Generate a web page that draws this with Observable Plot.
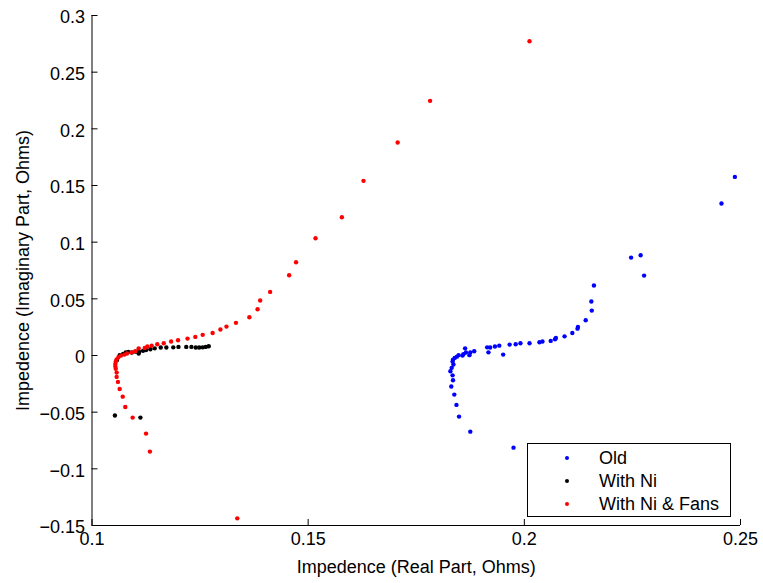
<!DOCTYPE html>
<html>
<head>
<meta charset="utf-8">
<script src="https://cdn.jsdelivr.net/npm/d3@7"></script>
<script src="https://cdn.jsdelivr.net/npm/@observablehq/plot@0.6"></script>
<style>
  html, body { margin: 0; padding: 0; background: #fff; }
  #wrap { position: relative; width: 763px; height: 583px; font-family: "Liberation Sans", Arial, sans-serif; }
  #legend { position: absolute; left: 527px; top: 443px; width: 202px; height: 72px; border: 1px solid #000; background: #fff; font-size: 18px; }
  .row { position: absolute; left: 0; height: 22px; line-height: 22px; }
  .row .sw { position: absolute; left: 37px; top: 9px; width: 4px; height: 4px; border-radius: 50%; }
  .row .lb { position: absolute; left: 71px; white-space: nowrap; }
</style>
</head>
<body>
<div id="wrap"></div>
<script>
// Series names
const seriesNames = ["Old", "With Ni", "With Ni & Fans"];
const seriesColors = ["#0000ff", "#000000", "#ff0000"];

// Old (blue)
const oldX = [0.2487, 0.2456, 0.2269, 0.2247, 0.2277, 0.2161, 0.2155, 0.2156, 0.2142, 0.2124, 0.2123, 0.2111, 0.2093, 0.2073, 0.2071, 0.2061, 0.2042, 0.2035, 0.2012, 0.1991, 0.1980, 0.1966, 0.1951, 0.1942, 0.1932, 0.1921, 0.1914, 0.1917, 0.1884, 0.1875, 0.1873, 0.1863, 0.1865, 0.1859, 0.1857, 0.1848, 0.1844, 0.1839, 0.1835, 0.1834, 0.1836, 0.1832, 0.1829, 0.1834, 0.1835, 0.1831, 0.1838, 0.1843, 0.1849, 0.1875, 0.1975];
const oldY = [0.1576, 0.1341, 0.0884, 0.0864, 0.0705, 0.0617, 0.0476, 0.0396, 0.0311, 0.0252, 0.0237, 0.0199, 0.0169, 0.0155, 0.0143, 0.0129, 0.0123, 0.0117, 0.0108, 0.0108, 0.0099, 0.0096, 0.0008, 0.0087, 0.0079, 0.0070, 0.0072, 0.0028, 0.0037, 0.0026, 0.0003, 0.0063, 0.0026, 0.0011, -0.0001, 0.0003, -0.0010, -0.0021, -0.0036, -0.0054, -0.0080, -0.0109, -0.0139, -0.0175, -0.0219, -0.0274, -0.0345, -0.0436, -0.0539, -0.0672, -0.0813];

// With Ni (black)
const niX = [0.1270, 0.1263, 0.1256, 0.1248, 0.1240, 0.1230, 0.1218, 0.1200, 0.1188, 0.1172, 0.1159, 0.1145, 0.1135, 0.1125, 0.1118, 0.1109, 0.1108, 0.1101, 0.1092, 0.1084, 0.1078, 0.1072, 0.1064, 0.1058, 0.1053, 0.1112];
const niY = [0.0081, 0.0076, 0.0072, 0.0070, 0.0070, 0.0076, 0.0076, 0.0076, 0.0072, 0.0070, 0.0070, 0.0063, 0.0055, 0.0049, 0.0041, 0.0034, 0.0017, 0.0034, 0.0026, 0.0032, 0.0028, 0.0014, 0.0003, -0.0040, -0.0530, -0.0548];

// With Ni & Fans (red)
const fansX = [0.2012, 0.1782, 0.1707, 0.1628, 0.1578, 0.1517, 0.1472, 0.1456, 0.1412, 0.1389, 0.1383, 0.1364, 0.1333, 0.1311, 0.1297, 0.1279, 0.1256, 0.1239, 0.1221, 0.1199, 0.1183, 0.1166, 0.1151, 0.1138, 0.1128, 0.1122, 0.1108, 0.1100, 0.1092, 0.1081, 0.1075, 0.1067, 0.1061, 0.1057, 0.1055, 0.1054, 0.1054, 0.1055, 0.1057, 0.1057, 0.1060, 0.1064, 0.1071, 0.1077, 0.1094, 0.1125, 0.1134, 0.1336];
const fansY = [0.2773, 0.2247, 0.1879, 0.1541, 0.1220, 0.1034, 0.0823, 0.0708, 0.0561, 0.0485, 0.0408, 0.0337, 0.0288, 0.0255, 0.0229, 0.0199, 0.0182, 0.0164, 0.0149, 0.0134, 0.0123, 0.0108, 0.0099, 0.0087, 0.0079, 0.0067, 0.0063, 0.0037, 0.0028, 0.0017, 0.0008, -0.0001, -0.0016, -0.0034, -0.0054, -0.0074, -0.0098, -0.0118, -0.0151, -0.0189, -0.0233, -0.0295, -0.0363, -0.0454, -0.0548, -0.0689, -0.0848, -0.1437];

// Axis ticks and labels
const xTicks = [0.1, 0.15, 0.2, 0.25];
const yTicks = [-0.15, -0.1, -0.05, 0, 0.05, 0.1, 0.15, 0.2, 0.25, 0.3];
const xLabel = "Impedence (Real Part, Ohms)";
const yLabel = "Impedence (Imaginary Part, Ohms)";

const toRows = (xs, ys, s) => xs.map((x, i) => ({x, y: ys[i], series: s}));
const data = [
  ...toRows(oldX, oldY, seriesNames[0]),
  ...toRows(niX, niY, seriesNames[1]),
  ...toRows(fansX, fansY, seriesNames[2])
];

const fmt = d => String(+d.toFixed(2)).replace("-", "\u2212");

const chart = Plot.plot({
  width: 763,
  height: 583,
  marginLeft: 91.5,
  marginRight: 23,
  marginTop: 15,
  marginBottom: 58,
  style: {fontFamily: "'Liberation Sans', Arial, sans-serif", fontSize: "18px", background: "#fff", color: "#000"},
  x: {domain: [0.1, 0.25]},
  y: {domain: [-0.15, 0.3]},
  color: {domain: seriesNames, range: seriesColors},
  marks: [
    // tick labels
    Plot.axisX(xTicks, {tickSize: 0, tickPadding: 7, tickFormat: fmt, label: null, fontSize: 18}),
    Plot.axisY(yTicks, {tickSize: 0, tickPadding: 7, tickFormat: fmt, label: null, fontSize: 18, dy: 2}),
    // inward tick marks
    Plot.axisX(xTicks, {tickSize: 6, dy: -6, tickFormat: () => "", label: null, stroke: "#000"}),
    Plot.axisY(yTicks, {tickSize: 6, dx: 6, tickFormat: () => "", label: null, stroke: "#000"}),
    // axis lines
    Plot.ruleY([-0.15], {stroke: "#000"}),
    Plot.ruleX([0.1], {stroke: "#000"}),
    // axis titles
    Plot.text([xLabel], {text: d => d, frameAnchor: "bottom", textAnchor: "middle", lineAnchor: "bottom", dy: 47, fontSize: 18}),
    Plot.text([yLabel], {text: d => d, frameAnchor: "left", textAnchor: "middle", lineAnchor: "bottom", rotate: -90, dx: -63, fontSize: 18}),
    // points
    Plot.dot(data, {x: "x", y: "y", fill: "series", r: 2.2, stroke: null})
  ]
});

const wrap = document.getElementById("wrap");
wrap.appendChild(chart);

// Legend overlay
const legend = document.createElement("div");
legend.id = "legend";
seriesNames.forEach((name, i) => {
  const row = document.createElement("div");
  row.className = "row";
  row.style.top = (3 + i * 23) + "px";
  row.style.width = "100%";
  const sw = document.createElement("span");
  sw.className = "sw";
  sw.style.background = seriesColors[i];
  const lb = document.createElement("span");
  lb.className = "lb";
  lb.textContent = name;
  row.appendChild(sw);
  row.appendChild(lb);
  legend.appendChild(row);
});
wrap.appendChild(legend);
</script>
</body>
</html>
